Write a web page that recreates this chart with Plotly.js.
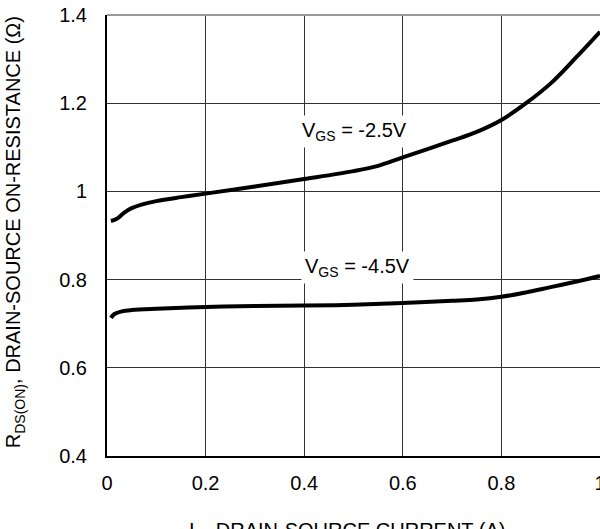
<!DOCTYPE html>
<html>
<head>
<meta charset="utf-8">
<script src="https://cdn.plot.ly/plotly-3.0.1.min.js"></script>
<style>html,body{margin:0;padding:0;background:#fff;}#chart{width:600px;height:529px;}</style>
</head>
<body>
<div id="chart"></div>
<script>
const xVgs25 = [0.008, 0.02, 0.035, 0.05, 0.07, 0.1, 0.15, 0.2, 0.3, 0.4, 0.5, 0.55, 0.6, 0.7, 0.75, 0.8, 0.85, 0.9, 0.95, 1.0];
const yVgs25 = [0.933, 0.938, 0.952, 0.962, 0.970, 0.978, 0.987, 0.995, 1.011, 1.028, 1.046, 1.058, 1.077, 1.115, 1.135, 1.162, 1.200, 1.245, 1.302, 1.362];
const xVgs45 = [0.008, 0.015, 0.03, 0.05, 0.1, 0.2, 0.3, 0.4, 0.5, 0.6, 0.7, 0.75, 0.8, 0.85, 0.9, 0.95, 1.0];
const yVgs45 = [0.713, 0.722, 0.728, 0.731, 0.734, 0.738, 0.740, 0.741, 0.743, 0.747, 0.752, 0.755, 0.761, 0.771, 0.783, 0.795, 0.808];
const xTicks = [0, 0.2, 0.4, 0.6, 0.8, 1];
const xTickText = ['0', '0.2', '0.4', '0.6', '0.8', '1'];
const yTicks = [0.4, 0.6, 0.8, 1, 1.2, 1.4];
const yTickText = ['0.4', '0.6', '0.8', '1', '1.2', '1.4'];
const labels = ['V<sub>GS</sub> = -2.5V', 'V<sub>GS</sub> = -4.5V'];
const xTitle = 'I<sub>D</sub>, DRAIN-SOURCE CURRENT (A)';
const yTitle = 'R<sub>DS(ON)</sub>, DRAIN-SOURCE ON-RESISTANCE (Ω)';

const FONT = 'Liberation Sans, Arial, sans-serif';
const traces = [
  {x: xVgs25, y: yVgs25, mode: 'lines', line: {color: '#000', width: 4, shape: 'spline'}, hoverinfo: 'skip'},
  {x: xVgs45, y: yVgs45, mode: 'lines', line: {color: '#000', width: 4, shape: 'spline'}, hoverinfo: 'skip'}
];
const layout = {
  width: 600, height: 529,
  margin: {l: 107, r: 0, t: 15, b: 73},
  showlegend: false,
  paper_bgcolor: '#fff', plot_bgcolor: '#fff',
  font: {family: FONT, size: 20, color: '#000'},
  xaxis: {
    range: [0, 1], tickvals: xTicks, ticktext: xTickText,
    showgrid: true, gridcolor: '#333', gridwidth: 1,
    zeroline: false, showline: true, linecolor: '#000', linewidth: 2,
    ticks: '', ticklabelstandoff: 8, ticklabeloverflow: 'allow',
    tickfont: {size: 20}
  },
  yaxis: {
    range: [0.4, 1.4], tickvals: yTicks, ticktext: yTickText,
    showgrid: true, gridcolor: '#333', gridwidth: 1,
    zeroline: false, showline: true, linecolor: '#000', linewidth: 2,
    ticks: '', ticklabelstandoff: 14,
    tickfont: {size: 20}
  },
  shapes: [
    {type: 'line', xref: 'paper', yref: 'paper', x0: 0, x1: 1, y0: 1, y1: 1, line: {color: '#999', width: 2}}
  ],
  annotations: [
    {x: 0.503, y: 1.135, xref: 'x', yref: 'y', text: labels[0], showarrow: false, bgcolor: '#fff', borderpad: 3, font: {size: 20}},
    {x: 0.509, y: 0.828, xref: 'x', yref: 'y', text: labels[1], showarrow: false, bgcolor: '#fff', borderpad: 3, font: {size: 20}},
    {x: 0.486, y: -0.172, xref: 'paper', yref: 'paper', xanchor: 'center', yanchor: 'middle', text: xTitle, showarrow: false, font: {size: 20}},
    {x: -0.187, y: 0.507, xref: 'paper', yref: 'paper', xanchor: 'center', yanchor: 'middle', textangle: -90, text: yTitle, showarrow: false, font: {size: 20}}
  ]
};
Plotly.newPlot('chart', traces, layout, {displayModeBar: false, staticPlot: true});
</script>
</body>
</html>
